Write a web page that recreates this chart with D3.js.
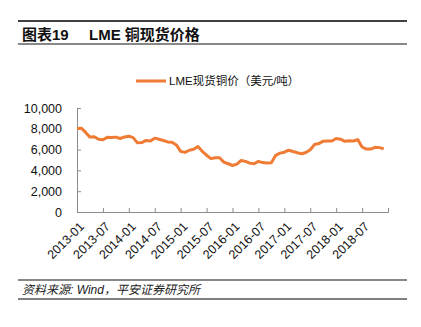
<!DOCTYPE html>
<html>
<head>
<meta charset="utf-8">
<script src="https://cdn.jsdelivr.net/npm/d3@7/dist/d3.min.js"></script>
<style>
  body { margin: 0; background: #fff; }
  svg { display: block; font-family: Arial, "Liberation Sans", "Noto Sans CJK SC", sans-serif; }
</style>
</head>
<body>
<div id="chart"></div>
<script>
// LME copper spot price, monthly, 2013-01 .. 2018-12 (USD/t)
const months = d3.range(72).map(i => {
    const y = 2013 + Math.floor(i / 12);
    const m = (i % 12) + 1;
    return `${y}-${String(m).padStart(2, '0')}`;
});
const copperPrice = [
    8040, 8060, 7650, 7200, 7230, 7000, 6950, 7180, 7160, 7200, 7070, 7220,
    7290, 7150, 6650, 6680, 6880, 6830, 7100, 7000, 6870, 6740, 6710, 6450,
    5830, 5730, 5940, 6040, 6290, 5830, 5460, 5130, 5220, 5220, 4800, 4640,
    4470, 4600, 4950, 4870, 4700, 4640, 4870, 4750, 4720, 4730, 5450, 5660,
    5750, 5940, 5820, 5700, 5600, 5720, 5990, 6490, 6580, 6810, 6830, 6830,
    7070, 7000, 6800, 6860, 6830, 6960, 6250, 6050, 6050, 6220, 6190, 6080
];
const xTickIndex = d3.range(0, 73, 6);
const xTickLabels = ['2013-01', '2013-07', '2014-01', '2014-07', '2015-01', '2015-07',
    '2016-01', '2016-07', '2017-01', '2017-07', '2018-01', '2018-07', ''];
const yTicks = [0, 2000, 4000, 6000, 8000, 10000];
const seriesName = 'LME现货铜价（美元/吨）';

const width = 421, height = 327;
const lineColor = '#EF7B34';
const axisColor = '#8c8c8c';

const svg = d3.select('#chart').append('svg')
    .attr('width', width)
    .attr('height', height);

// title block
svg.append('line').attr('x1', 18).attr('x2', 407).attr('y1', 21).attr('y2', 21)
    .attr('stroke', '#000').attr('stroke-width', 1.5);
svg.append('text').attr('x', 22).attr('y', 39.5)
    .attr('font-size', 15).attr('font-weight', 'bold').attr('fill', '#111')
    .text('图表19');
svg.append('text').attr('x', 89).attr('y', 39.5)
    .attr('font-size', 15).attr('font-weight', 'bold').attr('fill', '#111')
    .text('LME 铜现货价格');
svg.append('line').attr('x1', 18).attr('x2', 407).attr('y1', 44).attr('y2', 44)
    .attr('stroke', '#888').attr('stroke-width', 2);

// scales
const x = d3.scaleLinear().domain([0, 72]).range([77, 388]);
const y = d3.scaleLinear().domain([0, 10000]).range([212, 108]);

// y axis
const yAxis = svg.append('g').attr('transform', `translate(${x(0)},0)`)
    .call(d3.axisLeft(y).tickValues(yTicks).tickSize(-4).tickPadding(15)
        .tickFormat(d3.format(',')));
yAxis.select('.domain').attr('stroke', axisColor);
yAxis.selectAll('.tick line').attr('stroke', axisColor);
yAxis.selectAll('text').attr('font-size', 12.5).attr('fill', '#111')
    .attr('font-family', 'Arial, "Liberation Sans", sans-serif');

// x axis
const xAxis = svg.append('g').attr('transform', `translate(0,${y(0)})`)
    .call(d3.axisBottom(x).tickValues(xTickIndex).tickSize(-4)
        .tickFormat((d, i) => xTickLabels[i]));
xAxis.select('.domain').attr('stroke', axisColor);
xAxis.selectAll('.tick line').attr('stroke', axisColor);
xAxis.selectAll('text')
    .attr('font-size', 12.5).attr('fill', '#111')
    .attr('font-family', 'Arial, "Liberation Sans", sans-serif')
    .attr('text-anchor', 'end')
    .attr('dy', null).attr('y', 0)
    .attr('transform', 'translate(5,13) rotate(-45)')
    .attr('dominant-baseline', 'middle');

// series line
const line = d3.line()
    .x((d, i) => x(i))
    .y(d => y(d));
svg.append('path')
    .datum(copperPrice)
    .attr('fill', 'none')
    .attr('stroke', lineColor)
    .attr('stroke-width', 3)
    .attr('stroke-linejoin', 'round')
    .attr('d', line);

// legend
svg.append('line').attr('x1', 136).attr('x2', 166).attr('y1', 81).attr('y2', 81)
    .attr('stroke', lineColor).attr('stroke-width', 3);
svg.append('text').attr('x', 169).attr('y', 85)
    .attr('font-size', 11.5).attr('fill', '#111')
    .text(seriesName);

// source
svg.append('line').attr('x1', 18).attr('x2', 407).attr('y1', 280).attr('y2', 280)
    .attr('stroke', '#888').attr('stroke-width', 2);
svg.append('text').attr('x', 22).attr('y', 294)
    .attr('font-size', 12).attr('font-style', 'italic').attr('fill', '#222')
    .text('资料来源: Wind，平安证券研究所');
svg.append('line').attr('x1', 18).attr('x2', 407).attr('y1', 299).attr('y2', 299)
    .attr('stroke', '#000').attr('stroke-width', 1);
</script>
</body>
</html>
